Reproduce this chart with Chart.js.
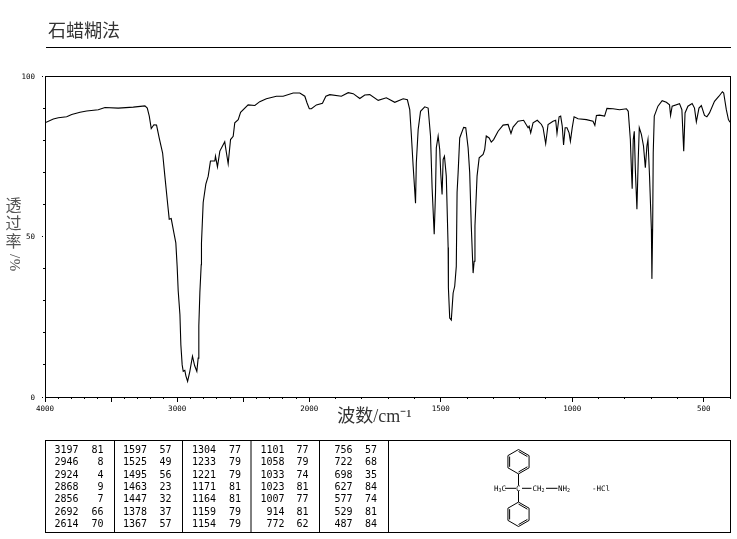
<!DOCTYPE html>
<html lang="zh">
<head>
<meta charset="utf-8">
<title>石蜡糊法</title>
<script src="https://cdn.jsdelivr.net/npm/chart.js@4/dist/chart.umd.min.js"></script>
<style>
html,body{margin:0;padding:0;background:#fff;}
#wrap{position:relative;width:737px;height:539px;overflow:hidden;}
canvas{position:absolute;left:0;top:0;}
#ov{position:absolute;left:0;top:0;}
</style>
</head>
<body>
<div id="wrap">
<canvas id="c" width="737" height="539"></canvas>
<svg id="ov" width="737" height="539" xmlns="http://www.w3.org/2000/svg"></svg>
</div>
<script>
const wavenumbers = [4000,3937,3899,3836,3798,3735,3685,3597,3546,3446,3332,3244,3226,3211,3196,3176,3156,3136,3110,3093,3073,3060,3045,3025,3010,3000,2992,2979,2972,2962,2954,2942,2934,2921,2904,2884,2868,2851,2841,2836,2828,2818,2816,2803,2783,2765,2748,2715,2710,2703,2695,2677,2640,2627,2614,2596,2576,2564,2538,2520,2463,2412,2375,2325,2249,2198,2122,2072,2034,2017,2000,1992,1973,1950,1937,1922,1878,1852,1833,1808,1789,1770,1738,1707,1675,1643,1627,1618,1612,1605,1596,1593,1586,1577,1561,1548,1539,1533,1525,1520,1517,1510,1504,1500,1495,1491,1486,1479,1472,1471,1466,1460,1453,1447,1441,1438,1434,1428,1413,1405,1396,1390,1384,1377,1373,1370,1362,1354,1339,1333,1327,1316,1308,1299,1282,1263,1244,1233,1225,1206,1185,1168,1164,1158,1149,1133,1117,1111,1101,1092,1073,1063,1058,1050,1044,1038,1033,1027,1020,1012,1007,1000,993,978,946,921,914,908,896,877,868,845,820,794,787,779,775,772,768,764,760,754,749,745,737,729,722,716,712,706,699,697,694,692,688,674,658,642,630,626,620,592,583,576,571,560,544,535,528,518,509,497,488,478,459,442,429,424,414,406,400];
const transmittance = [85.4,86.6,87,87.3,88,88.7,89.1,89.5,90.2,90,90.3,90.7,90,87.5,83.6,84.8,84.7,80.7,76,68.8,60.6,55.4,55.6,51.2,48,40.7,33,25.6,16.3,10,8,8.3,6.6,4.9,8,12.7,9.8,8,12.1,22.2,32.6,41.2,48,60.6,66.3,68.8,73.5,73.5,75,73.5,71.7,76.6,79.5,76,72.7,80.2,81.2,85.4,86.4,88.7,91,90.8,92,92.9,93.7,93.7,94.7,94.7,93.7,91.6,89.8,89.8,91,91.5,93.7,94.2,93.7,94.8,94.5,93,94.1,94.2,92.4,93.2,91.8,92.9,92.6,89.5,81.8,71.9,60.4,73,83.3,89,90.4,90,81.3,65.2,50.7,63.7,77.6,81.3,77.1,69.4,63.1,74,75,68.8,46.6,34,24.6,24,32.4,34.5,40.7,63.7,69.9,80.7,84,83.9,77.6,69.9,53.3,38.6,42.3,53.3,68.8,74.5,75.6,77.1,81.3,80.7,79.4,80.2,82.8,84.7,84.9,82.1,84.1,85.9,86.2,83.9,84.4,82.3,85.4,86.2,84.9,83.9,78.9,84.9,85.9,86.2,82.1,87.3,87.5,84.4,78.5,83.9,83.9,82.3,79.7,83.9,87.3,86.7,86.4,85.9,84.6,87.7,87.8,87.5,89.9,89.8,89.5,89.8,89,80.2,70.9,64.9,80.2,82.8,70.9,58.5,74,83.9,81.8,78.2,71.4,78.2,80.2,68.8,52.3,36.8,54,76,87.5,90.6,92.3,91.8,91,87.7,90.6,91.4,89.5,76.6,88.5,90.6,91.4,90,85.7,90,90.8,87.7,87.3,88.5,92.1,93.7,95.1,94.7,89.5,86.4,85.6];

const xLabelValues = [4000,3000,2000,1500,1000,500];
const xLongTickValues = [4000,3500,3000,2500,2000,1500,1000,500];
const yLabelValues = [0,50,100];

const peakWavenumbers = [
  ['3197','2946','2924','2868','2856','2692','2614'],
  ['1597','1525','1495','1463','1447','1378','1367'],
  ['1304','1233','1221','1171','1164','1159','1154'],
  ['1101','1058','1033','1023','1007','914','772'],
  ['756','722','698','627','577','529','487']
];
const peakPercents = [
  ['81','8','4','9','7','66','70'],
  ['57','49','56','23','32','37','57'],
  ['77','79','79','81','81','79','79'],
  ['77','79','74','81','77','81','62'],
  ['57','68','35','84','74','81','84']
];

const titleText = '石蜡糊法';
const xTitleText = '波数/cm⁻¹';
const yTitleText = '透过率/%';
const tickFont = {family:'"DejaVu Sans Mono"', size:7.5};
const BREAK = 264.5/685.5;

class IRAxis extends Chart.LinearScale {
  static id = 'irAxis';
  static defaults = Chart.LinearScale.defaults;
  buildTicks(){
    this.min = 400; this.max = 4000;
    const out = [];
    for (let v = 4000; v >= 400; v -= 100) out.push({value:v});
    return out;
  }
  getPixelForValue(v){
    const f = v >= 2000 ? (4000-v)/2000*BREAK : BREAK + (2000-v)/1600*(1-BREAK);
    return this.left + f*this.width;
  }
  _computeGridLineItems(area){
    const items = super._computeGridLineItems(area);
    items.forEach((it,i)=>{
      if (this.ticks[i] && xLongTickValues.includes(this.ticks[i].value)) it.ty2 += 3;
    });
    return items;
  }
  drawTitle(){
    const ctx = this.ctx;
    ctx.save(); ctx.translate(-13,0); super.drawTitle(); ctx.restore();
  }
}
class IRYAxis extends Chart.LinearScale {
  static id = 'irYAxis';
  static defaults = Chart.LinearScale.defaults;
  _computeGridLineItems(area){
    const items = super._computeGridLineItems(area);
    items.forEach((it,i)=>{
      if (this.ticks[i] && yLabelValues.includes(this.ticks[i].value)) it.tx2 -= 3;
    });
    return items;
  }
  _computeLabelItems(area){
    const items = super._computeLabelItems(area);
    items.forEach(it=>{ it.options.translation = [it.options.translation[0], it.options.translation[1]+1]; });
    return items;
  }
  drawTitle(){
    const ctx = this.ctx, t = this.options.title;
    ctx.save();
    ctx.fillStyle = t.color;
    ctx.font = t.font.size + 'px ' + t.font.family;
    ctx.textAlign = 'center'; ctx.textBaseline = 'middle';
    const ys = [205,223,241,256,265];
    Array.from(t.text).forEach((ch,i)=>{
      ctx.save();
      ctx.translate(13.5, ys[i]);
      if (i >= 3) { ctx.rotate(Math.PI/2); ctx.font = '15px "Liberation Serif"'; }
      ctx.fillText(ch,0,0);
      ctx.restore();
    });
    ctx.restore();
  }
}
Chart.register(IRAxis, IRYAxis);

const frame = {
  id:'frame',
  afterDatasetsDraw(chart){
    const {ctx, chartArea:a} = chart;
    ctx.save();
    ctx.strokeStyle = '#000'; ctx.lineWidth = 1;
    ctx.strokeRect(a.left+0.5, a.top+0.5, a.right-a.left, a.bottom-a.top);
    ctx.restore();
  }
};

new Chart(document.getElementById('c'), {
  type:'line',
  data:{datasets:[{
    data: wavenumbers.map((x,i)=>({x, y:transmittance[i]})),
    borderColor:'#000', borderWidth:1.1, pointRadius:0, tension:0, fill:false
  }]},
  plugins:[frame],
  options:{
    responsive:false, animation:false, devicePixelRatio:1,
    parsing:{xAxisKey:'x', yAxisKey:'y'},
    layout:{padding:{left:0,top:76,right:7,bottom:0}},
    plugins:{legend:{display:false}, tooltip:{enabled:false}, title:{display:false}},
    scales:{
      x:{
        type:'irAxis', min:400, max:4000, position:'bottom',
        afterFit(s){ s.height = 142; },
        border:{color:'#000', width:1},
        grid:{drawOnChartArea:false, drawTicks:true, tickLength:2, color:'#000'},
        ticks:{color:'#000', font:tickFont, padding:6, autoSkip:false, maxRotation:0, minRotation:0,
          callback:(v)=> xLabelValues.includes(v) ? String(v) : ''},
        title:{display:true, text:xTitleText, color:'#333',
          font:{family:'"Liberation Serif","Noto Sans CJK SC"', size:18},
          padding:{top:0,bottom:111}}
      },
      y:{
        type:'irYAxis', min:0, max:100, position:'left',
        afterFit(s){ s.width = 45; },
        border:{color:'#000', width:1},
        grid:{drawOnChartArea:false, drawTicks:true, tickLength:2, color:'#000'},
        ticks:{color:'#000', font:tickFont, padding:8, stepSize:10, autoSkip:false,
          callback:(v)=> yLabelValues.includes(v) ? String(v) : ''},
        title:{display:true, text:yTitleText, color:'#555',
          font:{family:'"Noto Sans CJK SC"', size:16}}
      }
    }
  }
});

/* overlay: heading, peak table, structural formula */
const NS = 'http://www.w3.org/2000/svg';
const ov = document.getElementById('ov');
function line(x1,y1,x2,y2,w){
  const l = document.createElementNS(NS,'line');
  l.setAttribute('x1',x1);l.setAttribute('y1',y1);l.setAttribute('x2',x2);l.setAttribute('y2',y2);
  l.setAttribute('stroke','#000');l.setAttribute('stroke-width',w||1);
  ov.appendChild(l);
}
function text(s,x,y,o){
  o = o||{};
  const t = document.createElementNS(NS,'text');
  t.textContent = s;
  t.setAttribute('x',x);t.setAttribute('y',y);
  t.setAttribute('font-family',o.family||'DejaVu Sans Mono');
  t.setAttribute('font-size',o.size||10);
  t.setAttribute('fill',o.color||'#000');
  t.setAttribute('text-anchor',o.anchor||'start');
  t.setAttribute('dominant-baseline','central');
  ov.appendChild(t);
}
text(titleText,48,29,{family:'Noto Sans CJK SC',size:18,color:'#333'});
line(46,47.5,731,47.5,1);

// table frame
[[45.5,440.5,730.5,440.5],[45.5,532.5,730.5,532.5],[45.5,440,45.5,533],[730.5,440,730.5,533]].forEach(a=>line(...a));
[114.5,182.5,251,319.5,388.5].forEach(x=>line(x,440,x,533));
const colRightA = [78.5,147,216,284.5,352.5];
const colRightB = [103.5,171.5,241,308.5,377];
const rowY = [449.5,461.8,474,486.3,498.5,511,523.3];
peakWavenumbers.forEach((col,c)=>col.forEach((s,r)=>{
  text(s,colRightA[c],rowY[r],{anchor:'end'});
  text(peakPercents[c][r],colRightB[c],rowY[r],{anchor:'end'});
}));

// structural formula
function hexagon(cx,cy,r,dbl){
  const pts=[];
  for(let i=0;i<6;i++){const a=-Math.PI/2+i*Math.PI/3;pts.push([cx+r*Math.cos(a),cy+r*Math.sin(a)]);}
  for(let i=0;i<6;i++){const p=pts[i],q=pts[(i+1)%6];line(p[0],p[1],q[0],q[1],1);}
  dbl.forEach(i=>{
    const p=pts[i],q=pts[(i+1)%6],k=0.84;
    line(cx+(p[0]-cx)*k,cy+(p[1]-cy)*k,cx+(q[0]-cx)*k,cy+(q[1]-cy)*k,1);
  });
}
hexagon(518.5,461.7,12.2,[0,2,4]);
hexagon(518.5,514.3,12.2,[0,2,4]);
line(518.5,474,518.5,485.5);
line(518.5,491,518.5,502);
line(505,488.3,516,488.3);
line(522,488.3,531.5,488.3);
line(546,488.3,557.5,488.3);
const small = {size:7.5};
text('H',494,488.3,small);text('3',498.5,490,{size:5});text('C',501.5,488.3,small);
text('C',516,488.3,small);
text('CH',532.5,488.3,small);text('2',541.5,490,{size:5});
text('NH',558,488.3,small);text('2',567,490,{size:5});
text('-HCl',592,488.3,small);
</script>
</body>
</html>
